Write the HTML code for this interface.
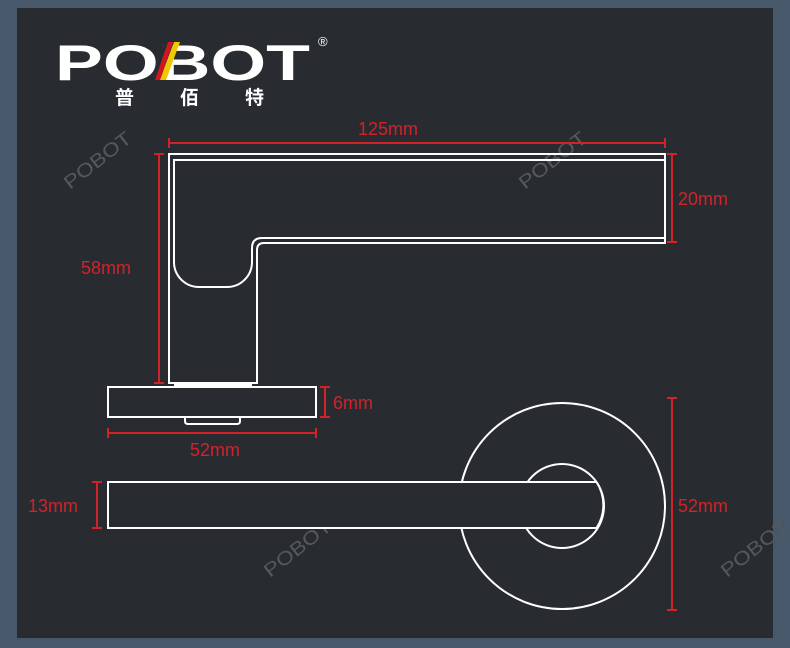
<!DOCTYPE html>
<html><head><meta charset="utf-8"><style>
html,body{margin:0;padding:0;background:#465869;}
svg{display:block}
</style></head><body>
<svg width="790" height="648" viewBox="0 0 790 648" xmlns="http://www.w3.org/2000/svg">
<rect x="0" y="0" width="790" height="648" fill="#465869"/>
<rect x="17" y="8" width="756" height="630" fill="#282c30"/>

<!-- logo -->
<g fill="#ffffff">
<text x="55" y="80" font-family="Liberation Sans, sans-serif" font-weight="bold" font-size="50" textLength="255" lengthAdjust="spacingAndGlyphs">POBOT</text>
<polygon points="165,42 174,42 160,80 151,80" fill="#282c30"/>
<polygon points="168,42 173,42 160,80 155,80" fill="#d0161e"/>
<polygon points="174,42 180,42 166,80 160,80" fill="#f0c800"/>
<text x="318" y="46" font-family="Liberation Sans, sans-serif" font-size="13">®</text>
<text x="115" y="104" font-family="Liberation Sans, 'Noto Sans CJK SC', sans-serif" font-weight="bold" font-size="19">普</text>
<text x="180" y="104" font-family="Liberation Sans, 'Noto Sans CJK SC', sans-serif" font-weight="bold" font-size="19">佰</text>
<text x="245" y="104" font-family="Liberation Sans, 'Noto Sans CJK SC', sans-serif" font-weight="bold" font-size="19">特</text>
</g>

<!-- watermarks -->
<g fill="#55595d" font-family="Liberation Sans, sans-serif" font-size="19">
<text transform="translate(70,190) rotate(-38)" textLength="80" lengthAdjust="spacingAndGlyphs">POBOT</text>
<text transform="translate(525,190) rotate(-38)" textLength="80" lengthAdjust="spacingAndGlyphs">POBOT</text>
<text transform="translate(270,578) rotate(-38)" textLength="80" lengthAdjust="spacingAndGlyphs">POBOT</text>
<text transform="translate(727,578) rotate(-38)" textLength="80" lengthAdjust="spacingAndGlyphs">POBOT</text>
</g>

<!-- side view lever -->
<g fill="none" stroke="#ffffff" stroke-width="2">
<path d="M169,154 H665 V243 H264 Q257,243 257,250 V383 H169 Z"/>
<path d="M665,160 H174 V262 A25,25 0 0 0 199,287 H227 A25,25 0 0 0 252,262 V248 Q252,238 262,238 H665"/>
<rect x="108" y="387" width="208" height="30"/>
<path d="M185,417 V421 Q185,424 188,424 H237 Q240,424 240,421 V417"/>
</g>
<rect x="174" y="382" width="78" height="5" fill="#ffffff"/>

<!-- front view -->
<g fill="none" stroke="#ffffff" stroke-width="2">
<circle cx="562" cy="506" r="103"/>
<circle cx="562" cy="506" r="42"/>
</g>
<path d="M108,482 H596.5 A42,42 0 0 1 596.5,528 H108 Z" fill="#282c30" stroke="#ffffff" stroke-width="2"/>

<!-- dimensions -->
<g stroke="#d3222a" stroke-width="2" fill="none">
<path d="M169,143 H665 M169,138 V148 M665,138 V148"/>
<path d="M159,154 V383 M154,154 H164 M154,383 H164"/>
<path d="M672,154 V242 M667,154 H677 M667,242 H677"/>
<path d="M325,387 V417 M320,387 H330 M320,417 H330"/>
<path d="M108,433 H316 M108,428 V438 M316,428 V438"/>
<path d="M97,482 V528 M92,482 H102 M92,528 H102"/>
<path d="M672,398 V610 M667,398 H677 M667,610 H677"/>
</g>
<g fill="#d3222a" font-family="Liberation Sans, sans-serif" font-size="18">
<text x="388" y="135" text-anchor="middle">125mm</text>
<text x="81" y="274">58mm</text>
<text x="678" y="205">20mm</text>
<text x="333" y="409">6mm</text>
<text x="215" y="456" text-anchor="middle">52mm</text>
<text x="28" y="512">13mm</text>
<text x="678" y="512">52mm</text>
</g>
</svg>
</body></html>
